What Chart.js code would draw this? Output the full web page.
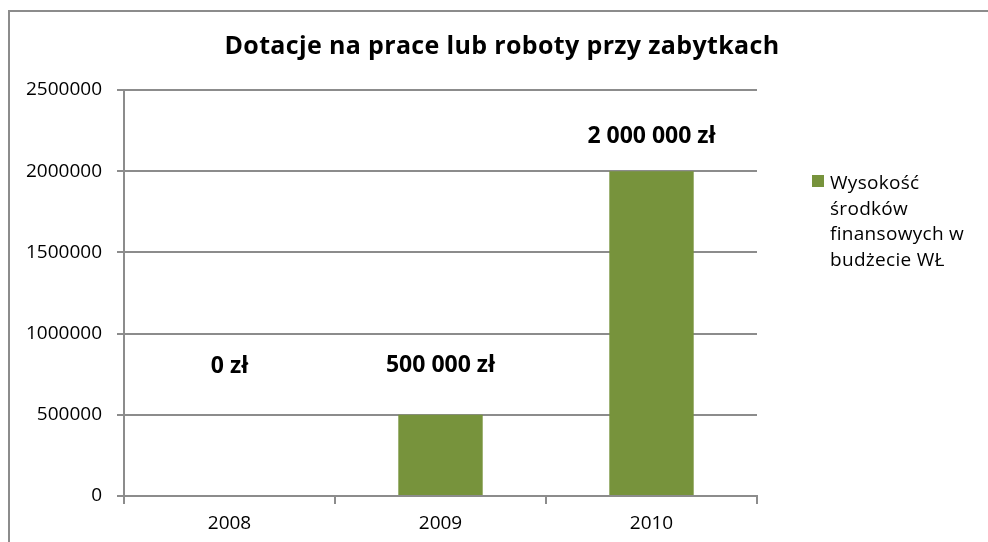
<!DOCTYPE html>
<html>
<head>
<meta charset="utf-8">
<script src="https://cdn.jsdelivr.net/npm/chart.js@4/dist/chart.umd.min.js"></script>
<style>
  html, body { margin: 0; padding: 0; background: #fff; overflow: hidden; }
  #wrap { position: relative; width: 988px; height: 542px; }
  #frame { position: absolute; left: 8px; top: 10px; width: 1100px; height: 600px; border: 2px solid #8c8c8c; box-sizing: border-box; }
  canvas { position: absolute; left: 0; top: 0; }
</style>
</head>
<body>
<div id="wrap">
  <div id="frame"></div>
  <canvas id="chart" width="988" height="542"></canvas>
</div>
<script>
const title = "Dotacje na prace lub roboty przy zabytkach";
const categories = ["2008", "2009", "2010"];
const values = [0, 500000, 2000000];
const valueLabels = ["0 zł", "500 000 zł", "2 000 000 zł"];
// value level (y units) at which each label's baseline sits
const labelLevels = [757000, 764000, 2174000];
const seriesName = ["Wysokość", "środków", "finansowych w", "budżecie WŁ"];
const yTicks = [0, 500000, 1000000, 1500000, 2000000, 2500000];

const green = "#77933C";
const gray = "#8c8c8c";
const font = '"Open Sans", sans-serif';

const extras = {
  id: "extras",
  afterDraw: function (chart) {
    var ctx = chart.ctx;
    var x = chart.scales.x;
    var y = chart.scales.y;
    ctx.save();
    ctx.fillStyle = "#000";
    ctx.textAlign = "center";
    ctx.textBaseline = "alphabetic";

    ctx.font = "bold 25px " + font;
    ctx.letterSpacing = "0.35px";
    ctx.fillText(title, 502, 54);
    ctx.letterSpacing = "0px";

    ctx.font = "bold 23px " + font;
    valueLabels.forEach(function (t, i) {
      ctx.fillText(t, x.getPixelForValue(i), y.getPixelForValue(labelLevels[i]));
    });

    // legend
    ctx.fillStyle = green;
    ctx.fillRect(812, 175, 12, 12);
    ctx.fillStyle = "#000";
    ctx.textAlign = "left";
    ctx.font = "19px " + font;
    ctx.letterSpacing = "0.3px";
    seriesName.forEach(function (line, i) {
      ctx.fillText(line, 830, 189 + i * 25.5);
    });
    ctx.restore();
  }
};

var ctx = document.getElementById("chart").getContext("2d");
var myChart = new Chart(ctx, {
  type: "bar",
  data: {
    labels: categories,
    datasets: [
      {
        label: seriesName.join(" "),
        data: values,
        backgroundColor: green,
        borderWidth: 0,
        barPercentage: 0.4,
        categoryPercentage: 1,
      },
    ],
  },
  options: {
    responsive: false,
    animation: false,
    layout: { padding: { top: 90, right: 231, left: 0, bottom: 0 } },
    plugins: {
      legend: { display: false },
      title: { display: false },
      tooltip: { enabled: false },
    },
    scales: {
      x: {
        afterFit: function (s) { s.height = 46; },
        grid: { offset: true, drawOnChartArea: false, drawTicks: true, tickLength: 8, color: gray, lineWidth: 2 },
        border: { color: gray, width: 2 },
        ticks: { color: "#000", padding: 8, font: { family: font, size: 19 } },
      },
      y: {
        min: 0,
        max: 2500000,
        afterFit: function (s) { s.width = 124; },
        afterBuildTicks: function (s) { s.ticks = yTicks.map(function (v) { return { value: v }; }); },
        grid: { color: gray, lineWidth: 2, tickLength: 7 },
        border: { color: gray, width: 2 },
        ticks: { color: "#000", padding: 15, font: { family: font, size: 19 }, callback: function (v) { return String(v); } },
      },
    },
  },
  plugins: [extras],
});
</script>
</body>
</html>
